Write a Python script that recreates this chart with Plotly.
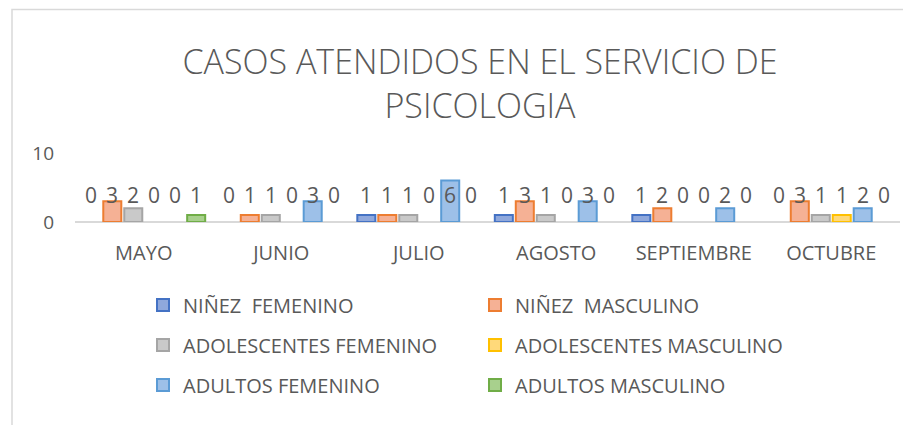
import plotly.graph_objects as go

months = ["MAYO", "JUNIO", "JULIO", "AGOSTO", "SEPTIEMBRE", "OCTUBRE"]
series_names = ["NIÑEZ  FEMENINO", "NIÑEZ  MASCULINO", "ADOLESCENTES FEMENINO",
                "ADOLESCENTES MASCULINO", "ADULTOS FEMENINO", "ADULTOS MASCULINO"]
ninez_fem = [0, 0, 1, 1, 1, 0]
ninez_masc = [3, 1, 1, 3, 2, 3]
adol_fem = [2, 1, 1, 1, 0, 1]
adol_masc = [0, 0, 0, 0, 0, 1]
adult_fem = [0, 3, 6, 3, 2, 2]
adult_masc = [1, 0, 0, 0, 0, 0]
values = [ninez_fem, ninez_masc, adol_fem, adol_masc, adult_fem, adult_masc]
y_ticks = [0, 10]

line_colors = ["#4472C4", "#ED7D31", "#A5A5A5", "#FFC000", "#5B9BD5", "#70AD47"]
fill_colors = ["#8FA8DC", "#F5B195", "#C9C9C9", "#FFD97A", "#9DC0E8", "#A8D08D"]

FONT = "Open Sans"
GREY = "#595959"
LABEL_Y = 3.9

W, H = 911, 425
OFF = 8  # page body margin offset


def fx(px):
    return (px - OFF) / W


def fy(py):
    return (H - (py - OFF)) / H


bargap = 0.085
n = len(series_names)
slot = (1 - bargap) / n

fig = go.Figure()
legend_ids = ["legend", "legend", "legend2", "legend2", "legend3", "legend3"]
xs = list(range(len(months)))
for k, (name, vals) in enumerate(zip(series_names, values)):
    # zero values are not drawn as bars (as in the original), but still labelled
    fig.add_bar(
        x=xs, y=[v if v != 0 else None for v in vals],
        name=name.replace("  ", " \u00a0"),
        marker=dict(color=fill_colors[k], line=dict(color=line_colors[k], width=2)),
        legend=legend_ids[k],
    )
    for i, v in enumerate(vals):
        xc = i - (1 - bargap) / 2 + (k + 0.5) * slot
        fig.add_annotation(x=xc, y=LABEL_Y, xref="x", yref="y", text=str(v),
                           showarrow=False, font=dict(family=FONT, size=21, color=GREY))

fig.update_layout(
    template="none",
    width=W, height=H,
    margin=dict(l=0, r=0, t=0, b=0),
    paper_bgcolor="white", plot_bgcolor="white",
    barmode="group", bargap=bargap, bargroupgap=0.14,
    font=dict(family=FONT, color=GREY),
    title=dict(text="CASOS ATENDIDOS EN EL SERVICIO DE<br>PSICOLOGIA",
               x=fx(480), xanchor="center", y=fy(74), yanchor="top",
               font=dict(family=FONT, size=34, color=GREY, weight=300)),
    xaxis=dict(domain=[fx(75), fx(900)], tickvals=xs, ticktext=months,
               range=[-0.5, len(months) - 0.5], automargin=False,
               showgrid=False, zeroline=False, ticks="", showline=False,
               tickfont=dict(family=FONT, size=20, color=GREY), ticklabelstandoff=17),
    yaxis=dict(domain=[fy(222), fy(153)], range=[0, 10], tickvals=y_ticks, automargin=False,
               showgrid=True, gridcolor="#D9D9D9", gridwidth=1.5,
               zeroline=True, zerolinecolor="#D9D9D9", zerolinewidth=1.5, ticks="",
               tickfont=dict(family=FONT, size=19, color=GREY), ticklabelstandoff=20),
    showlegend=True,
)
leg_common = dict(orientation="h", xanchor="left", yanchor="middle", entrywidth=287,
                  font=dict(family=FONT, size=20, color=GREY), bgcolor="rgba(0,0,0,0)",
                  traceorder="normal")
fig.update_layout(
    legend=dict(x=fx(143), y=fy(305), **leg_common),
    legend2=dict(x=fx(143), y=fy(345), **leg_common),
    legend3=dict(x=fx(143), y=fy(385), **leg_common),
)
fig.add_shape(type="rect", xref="paper", yref="paper",
              x0=fx(12), x1=fx(930), y0=fy(440), y1=fy(9.5),
              line=dict(color="#D9D9D9", width=1.5), layer="below")

fig.write_html("out.html")
